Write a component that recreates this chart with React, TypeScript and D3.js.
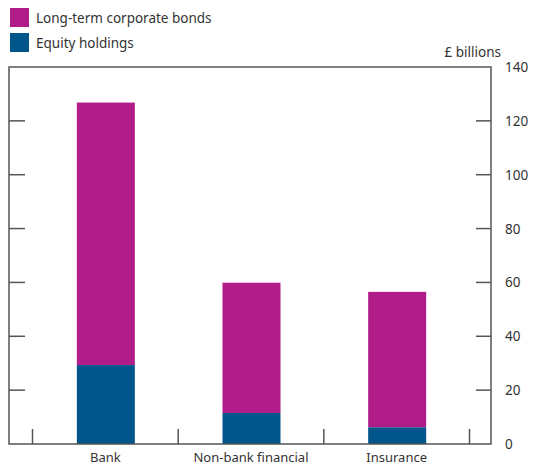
import React from "react";
import * as d3 from "d3";

const categories = ["Bank", "Non-bank financial", "Insurance"];
const equityHoldings = [29.3, 11.5, 6.2];
const corporateBonds = [97.5, 48.4, 50.3];
const yTicks = [0, 20, 40, 60, 80, 100, 120, 140];
const seriesNames = ["Long-term corporate bonds", "Equity holdings"];
const colors = ["#B01C88", "#00558B"];

export default function App() {
  const W = 533, H = 466;
  const left = 9, right = 491, top = 67, bottom = 444;
  const y = d3.scaleLinear().domain([0, 140]).range([bottom, top]);
  const x = d3.scaleBand().domain(categories).range([32.5, 469.5]).paddingInner(0).paddingOuter(0);
  const barW = 58;
  const font = "'Noto Sans', sans-serif";
  const axisCol = "#555";
  const txt = "#333";
  const boundaries = [...categories.map((c) => x(c)!), x(categories[2])! + x.bandwidth()];
  return (
    <svg width={W} height={H} style={{ position: "absolute", left: 0, top: 0 }} fontFamily={font}>
      {seriesNames.map((n, i) => (
        <g key={n}>
          <rect x={10} y={8 + i * 25} width={19} height={19} fill={colors[i]} />
          <text x={36} y={23 + i * 25} fontSize={13.5} fill={txt}>{n}</text>
        </g>
      ))}
      {categories.map((c, i) => {
        const cx = x(c)! + x.bandwidth() / 2;
        const eqTop = y(equityHoldings[i]);
        const total = y(equityHoldings[i] + corporateBonds[i]);
        return (
          <g key={c}>
            <rect x={cx - barW / 2 + 0.5} y={total} width={barW} height={eqTop - total} fill={colors[0]} />
            <rect x={cx - barW / 2 + 0.5} y={eqTop} width={barW} height={bottom - eqTop} fill={colors[1]} />
            <text x={cx} y={462} textAnchor="middle" fontSize={13} fill={txt}>{c}</text>
          </g>
        );
      })}
      <rect x={left} y={top} width={right - left} height={bottom - top} fill="none" stroke={axisCol} strokeWidth={1.5} />
      {yTicks.filter((t) => t > 0 && t < 140).map((t) => (
        <g key={t}>
          <line x1={left} x2={left + 16} y1={y(t)} y2={y(t)} stroke={axisCol} strokeWidth={1.5} />
          <line x1={right - 15} x2={right} y1={y(t)} y2={y(t)} stroke={axisCol} strokeWidth={1.5} />
        </g>
      ))}
      {yTicks.map((t) => (
        <text key={t} x={505} y={y(t) + 5} fontSize={13.5} fill={txt}>{t}</text>
      ))}
      {boundaries.map((b, i) => (
        <line key={i} x1={b} x2={b} y1={bottom} y2={bottom - 15} stroke={axisCol} strokeWidth={1.5} />
      ))}
      <text x={501} y={57} textAnchor="end" fontSize={13.5} fill={txt}>£ billions</text>
    </svg>
  );
}
